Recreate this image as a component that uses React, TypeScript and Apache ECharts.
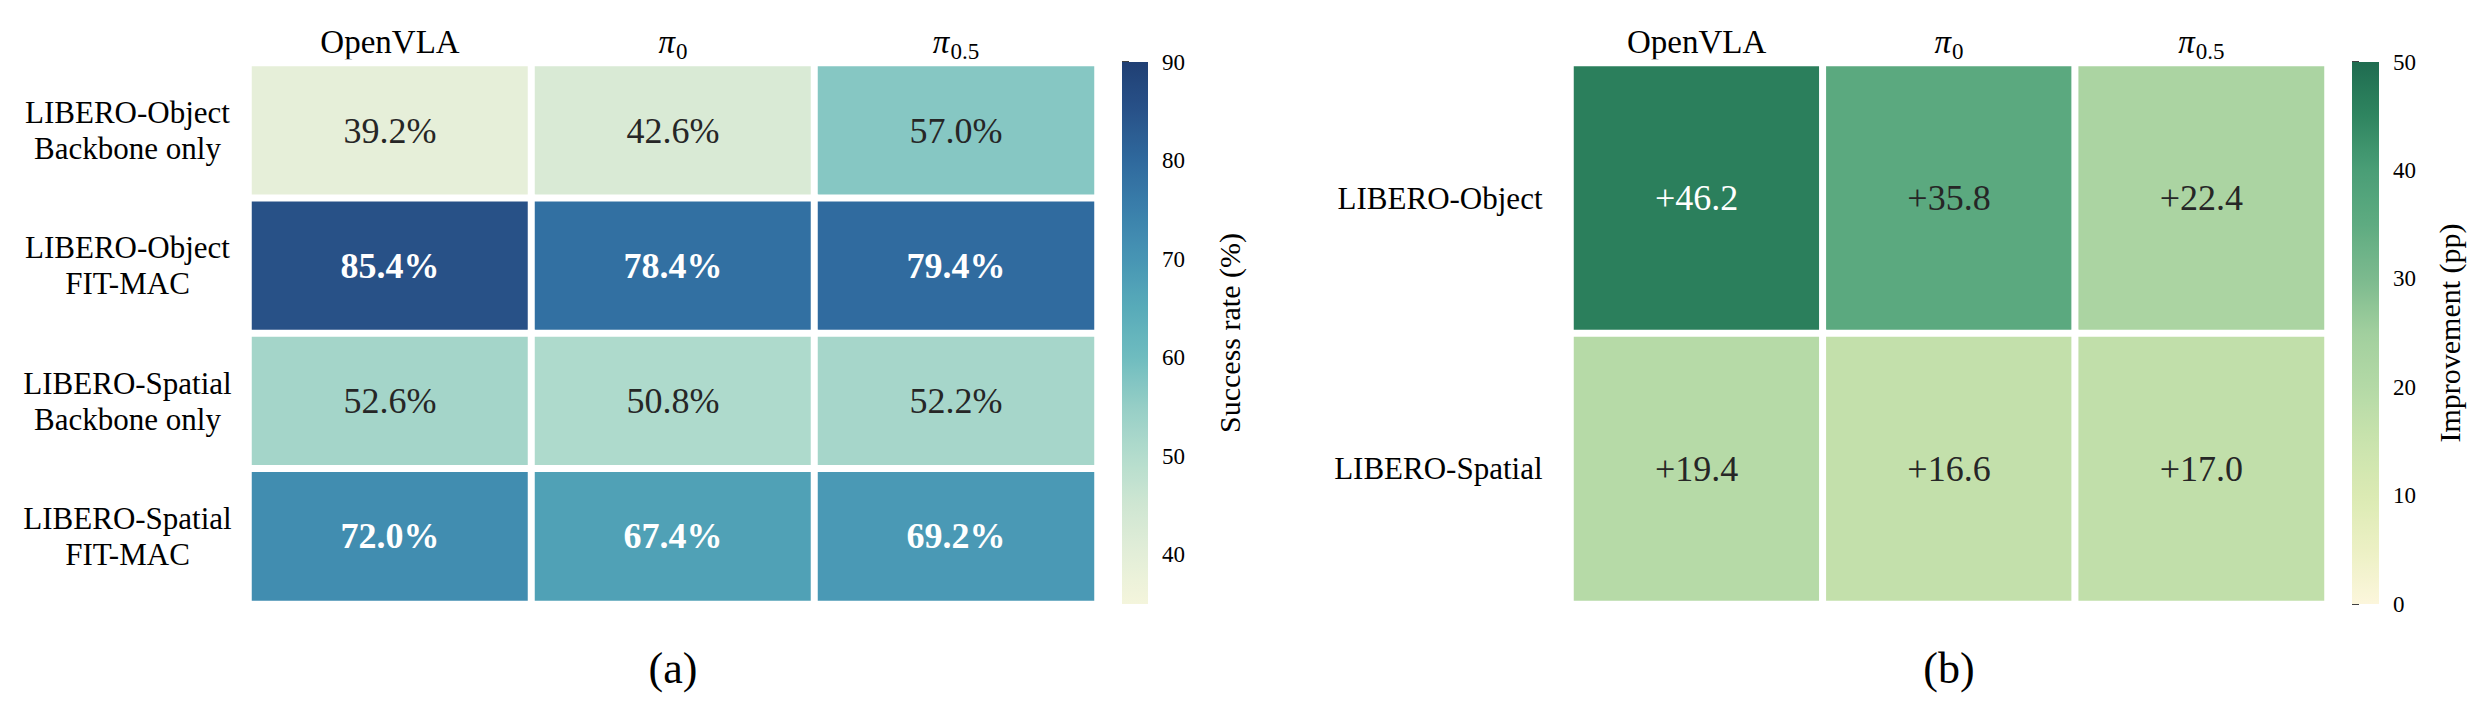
import { useEffect, useRef } from 'react';
import * as echarts from 'echarts';

// (a) success rate per benchmark setting, (b) improvement of FIT-MAC over the backbone
const COLUMNS = ['OpenVLA', 'π0', 'π0.5'];
const SUCCESS_ROWS = [
  'LIBERO-Object\nBackbone only',
  'LIBERO-Object\nFIT-MAC',
  'LIBERO-Spatial\nBackbone only',
  'LIBERO-Spatial\nFIT-MAC',
];
const SUCCESS_VALUES = [
  [39.2, 42.6, 57.0],
  [85.4, 78.4, 79.4],
  [52.6, 50.8, 52.2],
  [72.0, 67.4, 69.2],
];
const SUCCESS_TICKS = [40, 50, 60, 70, 80, 90];
const SUCCESS_RANGE = [35, 90];

const IMPROVEMENT_ROWS = ['LIBERO-Object', 'LIBERO-Spatial'];
const IMPROVEMENT_VALUES = [
  [46.2, 35.8, 22.4],
  [19.4, 16.6, 17.0],
];
const IMPROVEMENT_TICKS = [0, 10, 20, 30, 40, 50];
const IMPROVEMENT_RANGE = [0, 50];

// colour maps as [value, colour] stops
const BLUE_STOPS: [number, string][] = [
  [35, '#f4f5dc'], [40, '#e3eed8'], [45, '#cfe6d2'], [50, '#b3dccd'],
  [55, '#96cec6'], [60, '#6fbcbf'], [65, '#58abb9'], [70, '#4795b4'],
  [75, '#3a7fab'], [80, '#2f699d'], [85, '#285289'], [90, '#203f74'],
];
const GREEN_STOPS: [number, string][] = [
  [0, '#fcf6dc'], [5, '#ecf0c4'], [10, '#dbeab3'], [15, '#c9e3ad'],
  [20, '#b4d9a6'], [25, '#a1cf9e'], [30, '#7cba8e'], [35, '#5eab81'],
  [40, '#4a9e76'], [45, '#2f8560'], [50, '#1f6c50'],
];

const FONT = "'Liberation Serif', 'Times New Roman', serif";
const DARK_TEXT = '#262626';

const hexRgb = (h: string) => [1, 3, 5].map((i) => parseInt(h.slice(i, i + 2), 16));

const colorAt = (stops: [number, string][], v: number) => {
  if (v <= stops[0][0]) return stops[0][1];
  for (let i = 1; i < stops.length; i++) {
    const [v1, c1] = stops[i];
    if (v <= v1) {
      const [v0, c0] = stops[i - 1];
      const t = (v - v0) / (v1 - v0);
      const a = hexRgb(c0);
      const b = hexRgb(c1);
      const m = a.map((x, k) => Math.round(x + (b[k] - x) * t));
      return `rgb(${m[0]},${m[1]},${m[2]})`;
    }
  }
  return stops[stops.length - 1][1];
};

const sample = (stops: [number, string][], [lo, hi]: number[], n = 40) =>
  Array.from({ length: n + 1 }, (_, i) => colorAt(stops, lo + ((hi - lo) * i) / n));

// every header goes through rich text so the baselines line up; the subscript is pushed down with padding
const headerLabel = (v: string) =>
  v.startsWith('π') ? `{pi|π}{sub|${v.slice(1)}}` : `{txt|${v}}`;

const colorbarSeries = (idx: number, stops: [number, string][], range: number[]) => ({
  type: 'custom',
  xAxisIndex: idx,
  yAxisIndex: idx,
  silent: true,
  data: [[0, range[0], range[1]]],
  renderItem: (_p: any, api: any) => {
    const tl = api.coord([0, api.value(2)]);
    const br = api.coord([1, api.value(1)]);
    const n = (stops.length - 1) * 4;
    return {
      type: 'rect',
      shape: { x: tl[0], y: tl[1], width: br[0] - tl[0], height: br[1] - tl[1] },
      style: {
        fill: new echarts.graphic.LinearGradient(
          0, 1, 0, 0,
          sample(stops, range, n).map((c, i) => ({ offset: i / n, color: c }))
        ),
      },
    };
  },
});

const colorbarAxis = (idx: number, ticks: number[], range: number[], name: string, gap: number) => ({
  type: 'value',
  gridIndex: idx,
  position: 'right',
  min: range[0],
  max: range[1],
  name,
  nameLocation: 'middle',
  nameRotate: 90,
  nameGap: gap,
  nameTextStyle: { fontFamily: FONT, fontSize: 30, color: '#000' },
  axisLine: { show: false },
  splitLine: { show: false },
  axisTick: { show: true, length: 7, customValues: ticks, lineStyle: { color: '#000', width: 1.5 } },
  axisLabel: { customValues: ticks, margin: 14, fontFamily: FONT, fontSize: 23, color: '#000' },
});

const hiddenX = (idx: number) => ({ type: 'value', gridIndex: idx, min: 0, max: 1, show: false });

const headerAxis = (idx: number) => ({
  type: 'category',
  gridIndex: idx,
  data: COLUMNS,
  position: 'top',
  axisLine: { show: false },
  axisTick: { show: false },
  axisLabel: {
    interval: 0,
    margin: 0,
    fontFamily: FONT,
    fontSize: 33,
    color: '#000',
    formatter: headerLabel,
    rich: {
      txt: { fontFamily: FONT, fontSize: 33, color: '#000', lineHeight: 33, padding: [0, 0, 10, 0] },
      pi: { fontFamily: FONT, fontSize: 33, fontStyle: 'italic', color: '#000', lineHeight: 33, padding: [0, 0, 10, 0] },
      sub: { fontFamily: FONT, fontSize: 23, color: '#000', lineHeight: 23, padding: [10, 0, 0, 1] },
    },
  },
});

const App = () => {
  const chartRef = useRef<HTMLDivElement>(null);

  useEffect(() => {
    if (!chartRef.current) return;
    const chart = echarts.init(chartRef.current, null, { renderer: 'svg' });

    const successData = SUCCESS_VALUES.flatMap((row, r) =>
      row.map((v, c) => {
        const strong = SUCCESS_ROWS[r].includes('FIT-MAC');
        return {
          value: [c, r, v],
          label: { color: strong ? '#fff' : DARK_TEXT, fontWeight: strong ? 'bold' : 'normal' },
        };
      })
    );
    const improvementData = IMPROVEMENT_VALUES.flatMap((row, r) =>
      row.map((v, c) => ({
        value: [c, r, v],
        label: { color: v >= 40 ? '#fff' : DARK_TEXT },
      }))
    );

    const cellLabel = (suffix: string, prefix: string) => ({
      show: true,
      fontFamily: FONT,
      fontSize: 36,
      formatter: (p: any) => `${prefix}${p.value[2].toFixed(1)}${suffix}`,
    });

    const option = {
      animation: false,
      backgroundColor: '#fff',
      grid: [
        { left: 248.5, top: 63, width: 849, height: 541, outerBoundsMode: 'none' },
        { left: 1122, top: 62, width: 26, height: 542, outerBoundsMode: 'none' },
        { left: 1570.5, top: 63, width: 757, height: 541, outerBoundsMode: 'none' },
        { left: 2352, top: 62, width: 27, height: 542, outerBoundsMode: 'none' },
      ],
      xAxis: [headerAxis(0), hiddenX(1), headerAxis(2), hiddenX(3)],
      yAxis: [
        {
          type: 'category',
          gridIndex: 0,
          data: SUCCESS_ROWS,
          inverse: true,
          axisLine: { show: false },
          axisTick: { show: false },
          axisLabel: { interval: 0, align: 'center', margin: 121, fontFamily: FONT, fontSize: 31, lineHeight: 36, color: '#000' },
        },
        colorbarAxis(1, SUCCESS_TICKS, SUCCESS_RANGE, 'Success rate (%)', 66),
        {
          type: 'category',
          gridIndex: 2,
          data: IMPROVEMENT_ROWS,
          inverse: true,
          axisLine: { show: false },
          axisTick: { show: false },
          axisLabel: { interval: 0, align: 'right', margin: 28, fontFamily: FONT, fontSize: 31, color: '#000' },
        },
        colorbarAxis(3, IMPROVEMENT_TICKS, IMPROVEMENT_RANGE, 'Improvement (pp)', 55),
      ],
      visualMap: [
        {
          type: 'continuous', show: false, seriesIndex: 0, dimension: 2,
          min: SUCCESS_RANGE[0], max: SUCCESS_RANGE[1],
          inRange: { color: sample(BLUE_STOPS, SUCCESS_RANGE) },
        },
        {
          type: 'continuous', show: false, seriesIndex: 2, dimension: 2,
          min: IMPROVEMENT_RANGE[0], max: IMPROVEMENT_RANGE[1],
          inRange: { color: sample(GREEN_STOPS, IMPROVEMENT_RANGE) },
        },
      ],
      series: [
        {
          type: 'heatmap',
          xAxisIndex: 0,
          yAxisIndex: 0,
          data: successData,
          label: cellLabel('%', ''),
          itemStyle: { borderColor: '#fff', borderWidth: 7 },
          emphasis: { disabled: true },
        },
        colorbarSeries(1, BLUE_STOPS, SUCCESS_RANGE),
        {
          type: 'heatmap',
          xAxisIndex: 2,
          yAxisIndex: 2,
          data: improvementData,
          label: cellLabel('', '+'),
          itemStyle: { borderColor: '#fff', borderWidth: 7 },
          emphasis: { disabled: true },
        },
        colorbarSeries(3, GREEN_STOPS, IMPROVEMENT_RANGE),
      ],
      graphic: [
        { type: 'text', x: 673, y: 668, style: { text: '(a)', fontFamily: FONT, fontSize: 44, fill: '#000', textAlign: 'center', textVerticalAlign: 'middle' } },
        { type: 'text', x: 1949, y: 668, style: { text: '(b)', fontFamily: FONT, fontSize: 44, fill: '#000', textAlign: 'center', textVerticalAlign: 'middle' } },
      ],
    };

    chart.setOption(option);

    const handleResize = () => chart.resize();
    window.addEventListener('resize', handleResize);
    return () => {
      window.removeEventListener('resize', handleResize);
      chart.dispose();
    };
  }, []);

  return (
    <div
      ref={chartRef}
      style={{ position: 'fixed', left: 0, top: 0, width: '2488px', height: '714px', background: '#fff' }}
    />
  );
};

export default App;
